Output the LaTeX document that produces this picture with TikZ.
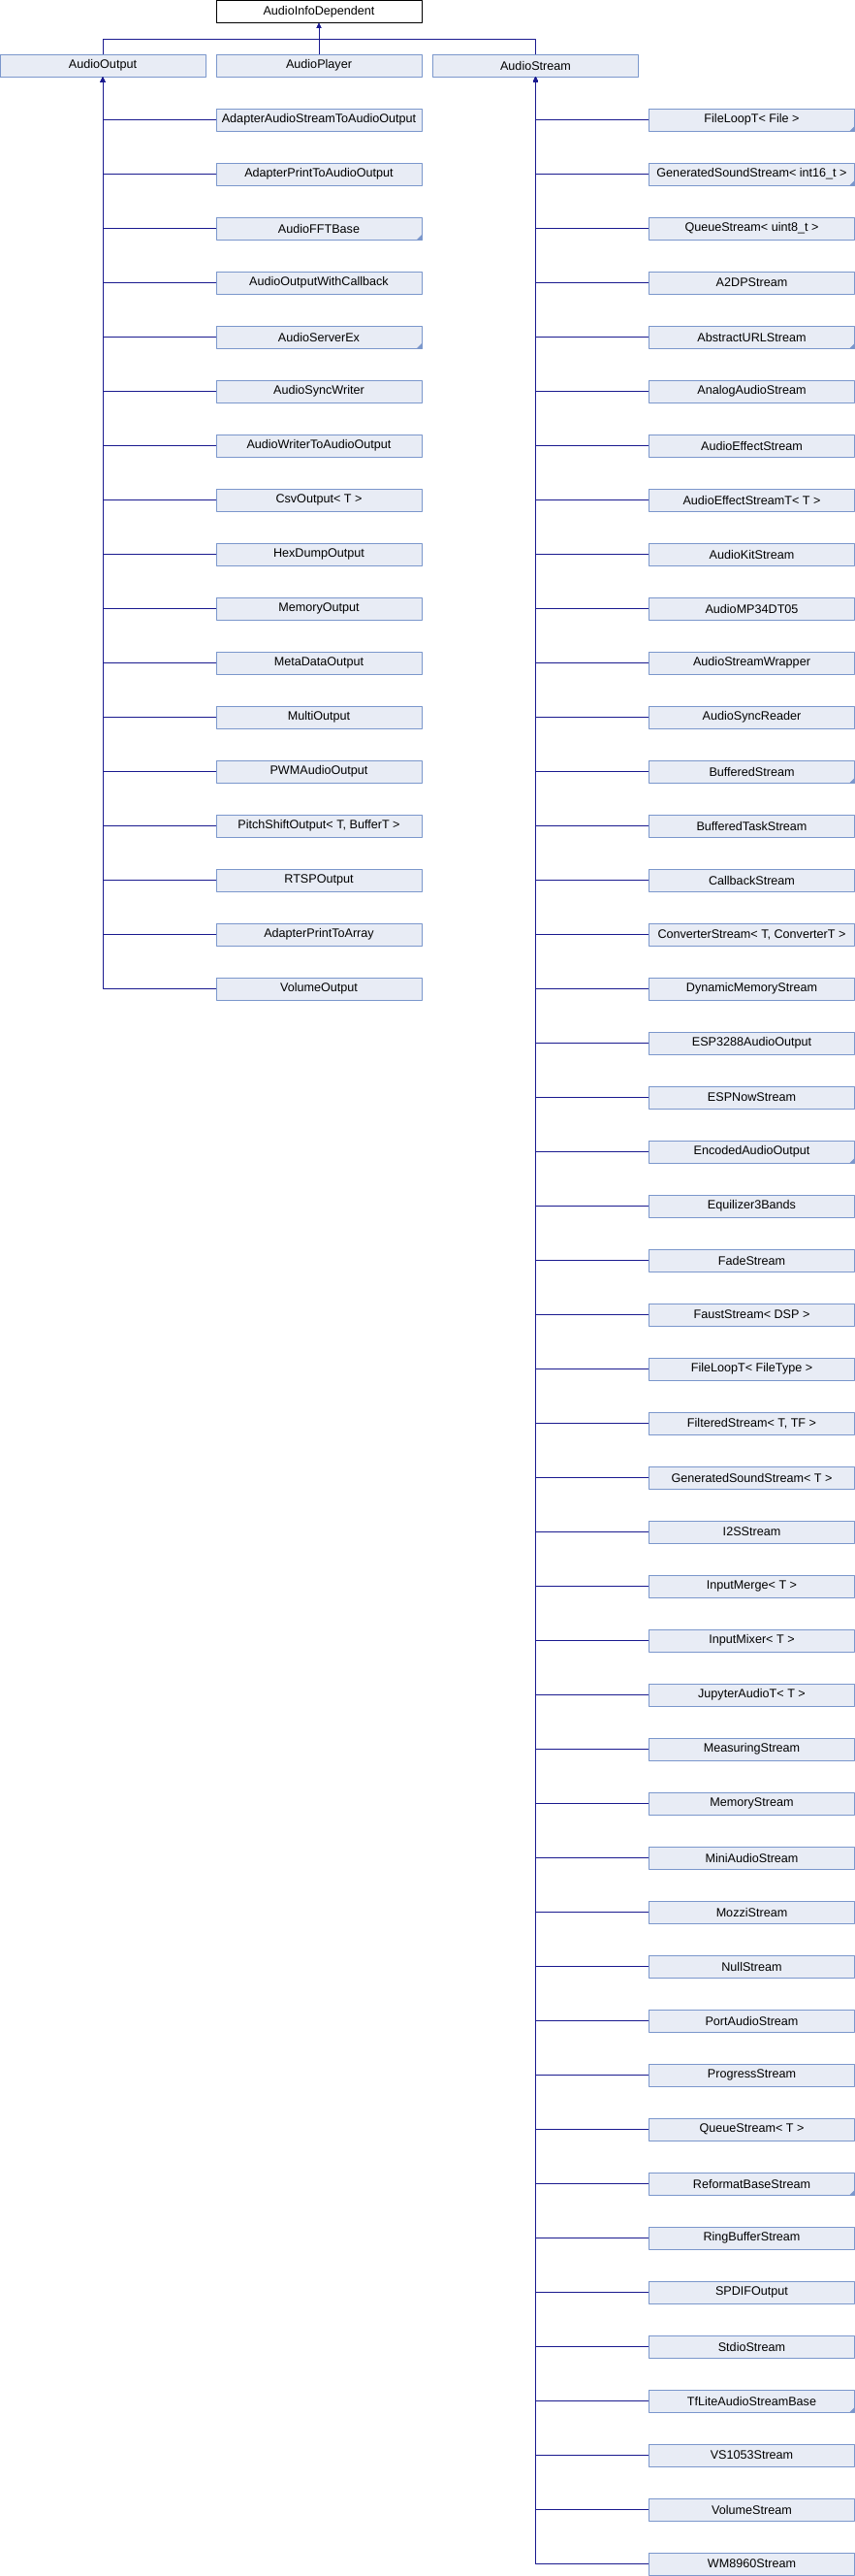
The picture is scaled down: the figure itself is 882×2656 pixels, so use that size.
\documentclass[tikz,border=0pt]{standalone}
\usepackage{fontspec}
\setmainfont{Liberation Sans}
\usetikzlibrary{arrows.meta}
\definecolor{boxfill}{HTML}{E8ECF5}
\definecolor{boxline}{HTML}{7B97CC}
\definecolor{edgeblue}{HTML}{1A1A8F}

\begin{document}
\begin{tikzpicture}[x=1pt, y=-1pt, line join = round,
    cls/.style={draw=boxline, fill=boxfill, line width=1pt, minimum width=212pt,
      minimum height=23pt, inner sep=0pt, font=\fontsize{12.6}{14}\selectfont},
    base/.style={cls, draw=black, fill=white},
    edge/.style={draw=edgeblue, line width=1pt, -{Triangle[length=5pt,width=4.5pt]}},
    more/.style={fill=boxline}]

    \useasboundingbox (0,0) rectangle (882,2656);

    % base-class
    \node[base] (info) at (329,11.75) {AudioInfoDependent};
    \coordinate (join) at (329,40);

    % first-level
    \node[cls] (out)  at (106,67.5)   {AudioOutput};
    \node[cls] (play) at (329,67.5)   {AudioPlayer};
    \node[cls] (strm) at (552.5,67.5) {AudioStream};

    \draw[edge] (out.north) |- (join) -- (info.south);
    \draw[edge] (strm.north) |- (join) -- (info.south);
    \draw[edge] (play.north) -- (info.south);

    % output-children
    \foreach \name [count=\i] in {AdapterAudioStreamToAudioOutput, AdapterPrintToAudioOutput,
        AudioFFTBase, AudioOutputWithCallback, AudioServerEx, AudioSyncWriter,
        AudioWriterToAudioOutput, CsvOutput< T >, HexDumpOutput, MemoryOutput,
        MetaDataOutput, MultiOutput, PWMAudioOutput, {PitchShiftOutput< T, BufferT >},
        RTSPOutput, AdapterPrintToArray, VolumeOutput}
    {
        \node[cls] (out-\i) at (329,{123.5+56*(\i-1)}) {\name};
        \draw[edge] (out-\i.west) -| (out.south);
    }

    % stream-children
    \foreach \name [count=\i] in {FileLoopT< File >, GeneratedSoundStream< int16\_t >,
        QueueStream< uint8\_t >, A2DPStream, AbstractURLStream, AnalogAudioStream,
        AudioEffectStream, AudioEffectStreamT< T >, AudioKitStream, AudioMP34DT05,
        AudioStreamWrapper, AudioSyncReader, BufferedStream, BufferedTaskStream,
        CallbackStream, {ConverterStream< T, ConverterT >}, DynamicMemoryStream,
        ESP3288AudioOutput, ESPNowStream, EncodedAudioOutput, Equilizer3Bands,
        FadeStream, FaustStream< DSP >, FileLoopT< FileType >, {FilteredStream< T, TF >},
        GeneratedSoundStream< T >, I2SStream, InputMerge< T >, InputMixer< T >,
        JupyterAudioT< T >, MeasuringStream, MemoryStream, MiniAudioStream,
        MozziStream, NullStream, PortAudioStream, ProgressStream, QueueStream< T >,
        ReformatBaseStream, RingBufferStream, SPDIFOutput, StdioStream,
        TfLiteAudioStreamBase, VS1053Stream, VolumeStream, WM8960Stream}
    {
        \node[cls] (strm-\i) at (775.5,{123.5+56*(\i-1)}) {\name};
        \draw[edge] (strm-\i.west) -| (strm.south);
    }

    % classes with more children
    \foreach \n in {out-3, out-5, strm-1, strm-2, strm-5, strm-13, strm-20, strm-39, strm-43}
        \fill[more] (\n.south east) -- ++(-6pt,0pt) -- ++(6pt,6pt) -- cycle;

\end{tikzpicture}
\end{document}
